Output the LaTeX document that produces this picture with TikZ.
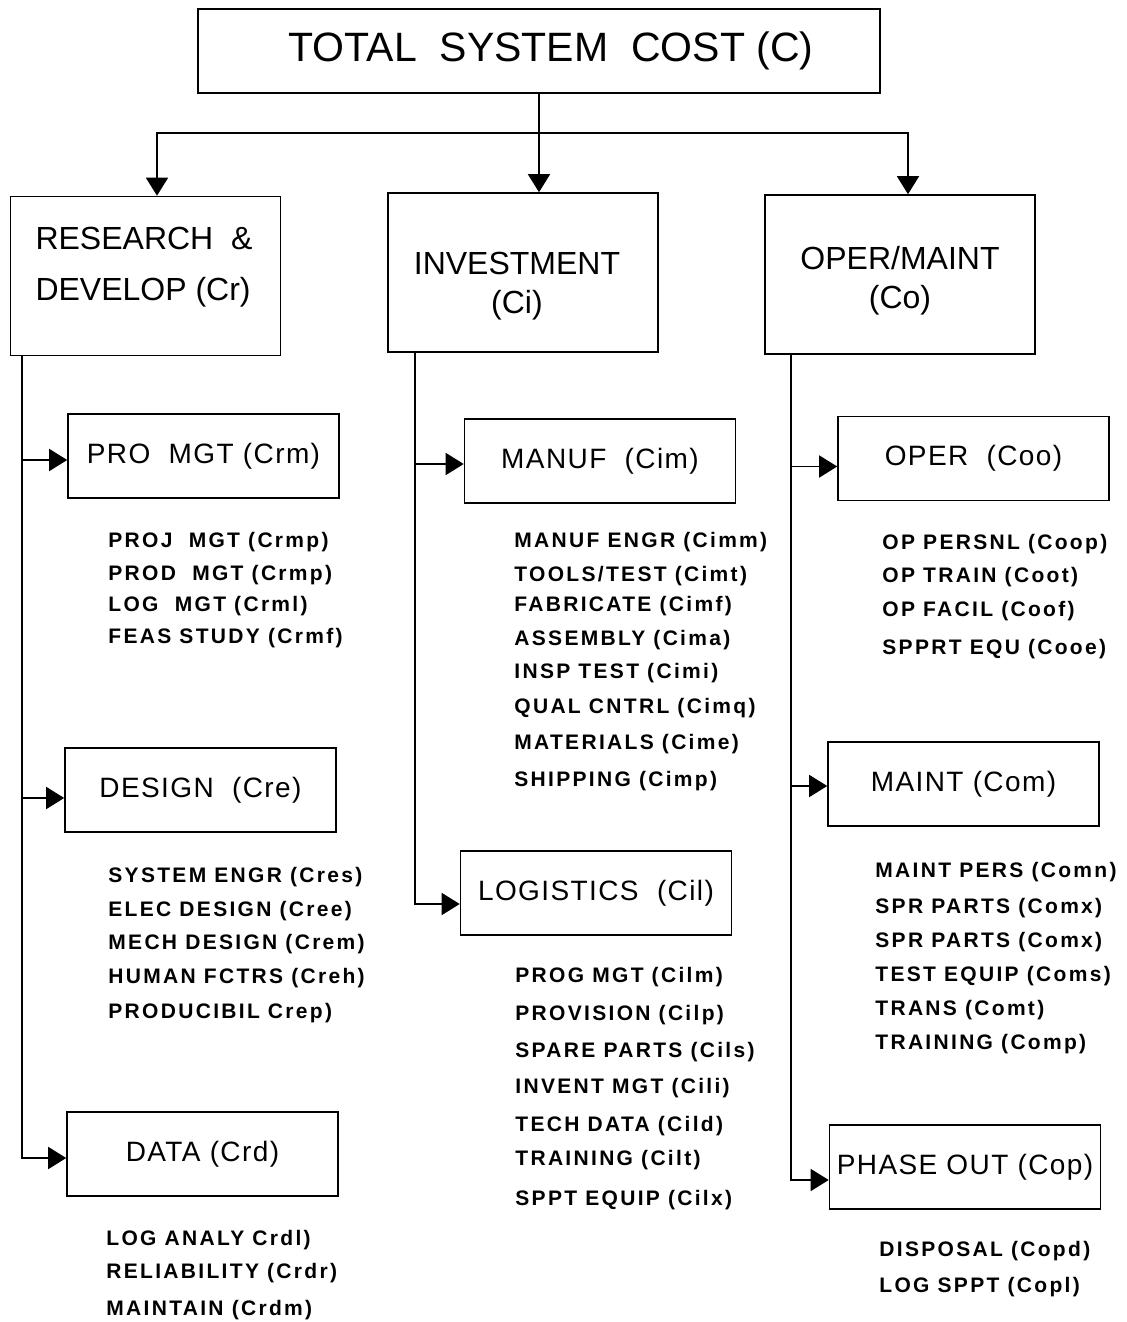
\documentclass[tikz,border=0pt]{standalone}
\usepackage{fontspec}
\setmainfont{Liberation Sans}
\newfontfamily\itemfont{Liberation Sans}[LetterSpace=11]
\newfontfamily\labelfont{Liberation Sans}[LetterSpace=5]
\usetikzlibrary{positioning, arrows.meta, calc}

\tikzset{
  topbox/.style={draw, line width=0.8pt, minimum width=341pt, minimum height=42pt,
    inner sep=0pt, font=\fontsize{20.5}{25}\selectfont},
  mainbox/.style={draw, line width=0.8pt, minimum width=135pt, minimum height=79.5pt, inner sep=0pt},
  mainlabel/.style={inner sep=0pt, align=center, font=\fontsize{16}{19.5}\selectfont},
  subbox/.style={draw, line width=0.8pt, minimum width=135.5pt, minimum height=42pt,
    inner sep=0pt, font=\labelfont\fontsize{14}{16}\selectfont},
  item/.style={anchor=base west, inner sep=0pt, font=\itemfont\bfseries\fontsize{10.5}{12}\selectfont},
  link/.style={line width=0.8pt},
  arr/.style={link, -{Triangle[length=9pt,width=11pt]}},
}

\begin{document}
\begin{tikzpicture}[x=0.5pt, y=-0.5pt]
  \useasboundingbox (0,0) rectangle (1127,1322);

  % top and first level
  \node[topbox] (top) at (539,51) {\hspace{12pt}TOTAL\ \ SYSTEM\ \ COST (C)};
  \node[mainbox] (rd) at (145.5,276) {};
  \node[mainbox] (inv) at (523,272.5) {};
  \node[mainbox] (om) at (900,274.5) {};
  \node[mainlabel, align=left, font=\fontsize{16}{25.5}\selectfont] (rdtext) at (144,267) {RESEARCH\ \ \&\\DEVELOP (Cr)};
  \node[mainlabel] (invtext) at (517,286.5) {INVESTMENT\\(Ci)};
  \node[mainlabel] (omtext) at (900,281) {OPER/MAINT\\(Co)};

  \coordinate (bus) at (539,133);
  \draw[link] (top.south) -- (bus);
  \draw[arr] (bus) -| ([xshift=5.75pt]rd.north);
  \draw[arr] (bus) -- (bus |- inv.north);
  \draw[arr] (bus) -| ([xshift=4pt]om.north);

  % second level boxes
  \node[subbox] (crm) at (203.5,456) {PRO\ \ MGT (Crm)};
  \node[subbox] (cre) at (200.5,790) {DESIGN\ \ (Cre)};
  \node[subbox] (crd) at (202.5,1154) {DATA (Crd)};
  \node[subbox] (cim) at (600,461) {MANUF\ \ (Cim)};
  \node[subbox] (cil) at (596,893) {LOGISTICS\ \ (Cil)};
  \node[subbox] (coo) at (973.5,458.5) {OPER\ \ (Coo)};
  \node[subbox] (com) at (963.5,784) {MAINT (Com)};
  \node[subbox] (cop) at (965,1167) {PHASE OUT (Cop)};

  % spines
  \coordinate (rdsp) at ([xshift=6pt]rd.south west);
  \coordinate (invsp) at ([xshift=14pt]inv.south west);
  \coordinate (omsp) at ([xshift=13.5pt]om.south west);
  \draw[arr] (rdsp) |- ([yshift=-2pt]crd.west);
  \draw[arr] (rdsp |- crm.west) ++(0,4) -- ([yshift=-2pt]crm.west);
  \draw[arr] (rdsp |- cre.west) ++(0,8) -- ([yshift=-4pt]cre.west);
  \draw[arr] (invsp) |- ([yshift=-5.5pt]cil.west);
  \draw[arr] (invsp |- cim.west) ++(0,3) -- ([yshift=-1.5pt]cim.west);
  \draw[arr] (omsp) |- ([yshift=-6.5pt]cop.west);
  \draw[arr] (omsp |- coo.west) ++(0,8) -- ([yshift=-4pt]coo.west);
  \draw[arr] (omsp |- com.west) ++(0,2) -- ([yshift=-1pt]com.west);

  % cost elements
  \foreach \y/\t [count=\i] in {540/{PROJ\ \ MGT (Crmp)}, 573/{PROD\ \ MGT (Crmp)},
      604/{LOG\ \ MGT (Crml)}, 636/{FEAS STUDY (Crmf)}}
    \node[item] (crm\i) at (108,{\y+7.5}) {\t};
  \foreach \y/\t [count=\i] in {875/{SYSTEM ENGR (Cres)}, 909/{ELEC DESIGN (Cree)},
      942/{MECH DESIGN (Crem)}, 976/{HUMAN FCTRS (Creh)}, 1011/{PRODUCIBIL Crep)}}
    \node[item] (cre\i) at (108,{\y+7.5}) {\t};
  \foreach \y/\t [count=\i] in {1238/{LOG ANALY Crdl)}, 1271/{RELIABILITY (Crdr)},
      1308/{MAINTAIN (Crdm)}}
    \node[item] (crd\i) at (106,{\y+7.5}) {\t};
  \foreach \y/\t [count=\i] in {540/{MANUF ENGR (Cimm)}, 574/{TOOLS/TEST (Cimt)},
      604/{FABRICATE (Cimf)}, 638/{ASSEMBLY (Cima)}, 671/{INSP TEST (Cimi)},
      706/{QUAL CNTRL (Cimq)}, 742/{MATERIALS (Cime)}, 779/{SHIPPING (Cimp)}}
    \node[item] (cim\i) at (514,{\y+7.5}) {\t};
  \foreach \y/\t [count=\i] in {975/{PROG MGT (Cilm)}, 1013/{PROVISION (Cilp)},
      1050/{SPARE PARTS (Cils)}, 1086/{INVENT MGT (Cili)}, 1124/{TECH DATA (Cild)},
      1158/{TRAINING (Cilt)}, 1198/{SPPT EQUIP (Cilx)}}
    \node[item] (cil\i) at (515,{\y+7.5}) {\t};
  \foreach \y/\t [count=\i] in {542/{OP PERSNL (Coop)}, 575/{OP TRAIN (Coot)},
      609/{OP FACIL (Coof)}, 647/{SPPRT EQU (Cooe)}}
    \node[item] (coo\i) at (882,{\y+7.5}) {\t};
  \foreach \y/\t [count=\i] in {870/{MAINT PERS (Comn)}, 906/{SPR PARTS (Comx)},
      940/{SPR PARTS (Comx)}, 974/{TEST EQUIP (Coms)}, 1008/{TRANS (Comt)},
      1042/{TRAINING (Comp)}}
    \node[item] (com\i) at (875,{\y+7.5}) {\t};
  \foreach \y/\t [count=\i] in {1249/{DISPOSAL (Copd)}, 1285/{LOG SPPT (Copl)}}
    \node[item] (cop\i) at (879,{\y+7.5}) {\t};
\end{tikzpicture}
\end{document}
